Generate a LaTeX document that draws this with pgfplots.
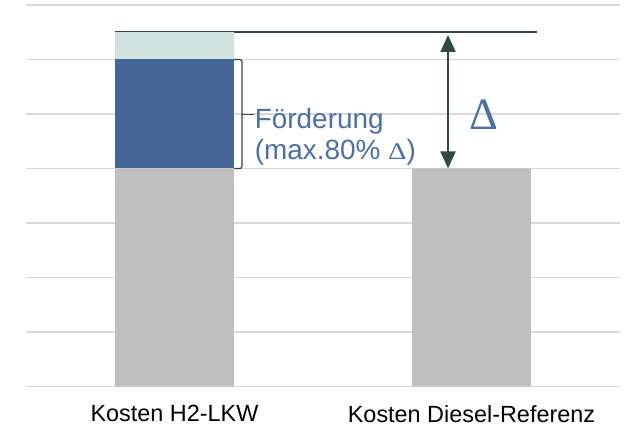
\documentclass[border=0pt]{standalone}
\usepackage{fontspec}
\setmainfont{Liberation Sans}
\newfontfamily\serifdelta{Liberation Serif}
\usepackage{pgfplots}
\pgfplotsset{compat=1.18}
\usetikzlibrary{arrows.meta}
\definecolor{gridc}{HTML}{D9D9D9}
\definecolor{grayc}{HTML}{BFBFBF}
\definecolor{bluec}{HTML}{446699}
\definecolor{lightc}{HTML}{D0E3DF}
\definecolor{linec}{HTML}{2E4A42}
\definecolor{textc}{HTML}{4A6FAA}
\begin{document}
\begin{tikzpicture}
\begin{axis}[
 at={(0,0)}, anchor=south west,
 scale only axis, width=594bp, height=381.5bp,
 xmin=-0.5, xmax=1.5, ymin=0, ymax=7,
 ybar stacked, bar width=0.4,
 xtick={0,1}, xticklabels={Kosten H2-LKW, Kosten Diesel-Referenz},
 ytick={0,...,7}, yticklabels={},
 ymajorgrids, grid style={draw=gridc, line width=1.6bp},
 axis line style={draw=none},
 major tick style={draw=none},
 xticklabel style={font=\fontsize{23.5}{28}\selectfont, anchor=north, inner sep=0pt, yshift=-18.5bp},
 clip=false,
]
\addplot[fill=grayc, draw=none] coordinates {(0,4) (1,4)};
\addplot[fill=bluec, draw=none] coordinates {(0,2) (1,0)};
\addplot[fill=lightc, draw=none] coordinates {(0,0.5) (1,0)};
\draw[linec, line width=2bp] (axis cs:-0.2,6.5) -- (axis cs:1.221,6.5);
\draw[linec, line width=2bp, {Triangle[width=15bp,length=17bp]}-{Triangle[width=15bp,length=17bp]}] (axis cs:0.921,6.45) -- (axis cs:0.921,4.0);
\draw[linec, line width=1.2bp, rounded corners=2bp] (axis cs:0.2,6) -- ([xshift=8bp]axis cs:0.2,6) -- ([xshift=8bp]axis cs:0.2,4) -- (axis cs:0.2,4);
\draw[linec, line width=1.2bp] ([xshift=8bp]axis cs:0.2,4.99) -- ([xshift=20bp]axis cs:0.2,4.99);
\node[anchor=base west, inner sep=0pt, text=textc, font=\fontsize{28}{31}\selectfont] at (axis cs:0.27,4.743) {Förderung};
\node[anchor=base west, inner sep=0pt, text=textc, font=\fontsize{28}{31}\selectfont] at (axis cs:0.27,4.165) {(max.80\% \scalebox{1.2}[1]{\fontsize{24}{26}\selectfont\serifdelta Δ})};
\node[anchor=base, inner sep=0pt, text=textc, font=\fontsize{45}{50}\selectfont\serifdelta] at (axis cs:1.0405,4.71) {Δ};
\end{axis}
\pgfresetboundingbox
\path[use as bounding box] (-26bp,-40.5bp) rectangle (602bp,386.5bp);
\end{tikzpicture}
\end{document}
